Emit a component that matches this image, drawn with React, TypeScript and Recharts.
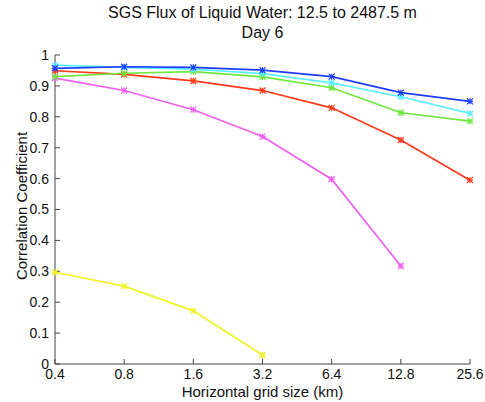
import { LineChart, Line, XAxis, YAxis } from "recharts";

const sizes = ["0.4", "0.8", "1.6", "3.2", "6.4", "12.8", "25.6"];
const blue = [0.957, 0.962, 0.96, 0.951, 0.93, 0.878, 0.85];
const cyan = [0.967, 0.96, 0.954, 0.94, 0.91, 0.865, 0.811];
const green = [0.93, 0.941, 0.946, 0.929, 0.894, 0.813, 0.786];
const red = [0.949, 0.937, 0.916, 0.885, 0.829, 0.725, 0.595];
const magenta = [0.925, 0.885, 0.823, 0.736, 0.598, 0.317];
const yellow = [0.297, 0.252, 0.172, 0.029];
const yTicks = [0, 0.1, 0.2, 0.3, 0.4, 0.5, 0.6, 0.7, 0.8, 0.9, 1];

const data = sizes.map((s, i) => ({
  x: s,
  blue: blue[i],
  cyan: cyan[i],
  green: green[i],
  red: red[i],
  magenta: magenta[i],
  yellow: yellow[i],
}));

const series = [
  { key: "yellow", color: "#f2f22a" },
  { key: "magenta", color: "#f060f0" },
  { key: "red", color: "#ff3a1a" },
  { key: "green", color: "#6ee83c" },
  { key: "cyan", color: "#5cf0ff" },
  { key: "blue", color: "#1f3cff" },
];

const font = "'Liberation Sans', Arial, sans-serif";

// small MATLAB-ish star marker
function Star(props: any) {
  const { cx, cy, stroke } = props;
  if (cx == null || cy == null || props.value == null) return null;
  const r = 3;
  return (
    <g stroke={stroke} strokeWidth={1.2}>
      <line x1={cx - r} y1={cy - r} x2={cx + r} y2={cy + r} />
      <line x1={cx - r} y1={cy + r} x2={cx + r} y2={cy - r} />
      <line x1={cx - r} y1={cy} x2={cx + r} y2={cy} />
      <line x1={cx} y1={cy - r} x2={cx} y2={cy + r} />
    </g>
  );
}

export default function App() {
  const axisColor = "#444";
  return (
    <div style={{ position: "absolute", left: 0, top: 0, width: 485, height: 402, background: "#fff", fontFamily: font }}>
      <div style={{ position: "absolute", left: 30, width: 465, top: 3, textAlign: "center", fontSize: 16, lineHeight: "20px", color: "#111" }}>
        SGS Flux of Liquid Water: 12.5 to 2487.5 m
        <br />
        Day 6
      </div>
      <div
        style={{
          position: "absolute",
          left: 21,
          top: 206,
          transform: "translate(-50%, -50%) rotate(-90deg)",
          fontSize: 15,
          whiteSpace: "nowrap",
          color: "#111",
        }}
      >
        Correlation Coefficient
      </div>
      <div style={{ position: "absolute", left: 55, width: 415, top: 383, textAlign: "center", fontSize: 15, color: "#111" }}>
        Horizontal grid size (km)
      </div>
      <LineChart width={485} height={402} data={data} margin={{ top: 55, right: 15, bottom: 0, left: 0 }}>
        <XAxis
          dataKey="x"
          height={38}
          stroke={axisColor}
          tickSize={-5}
          tickMargin={10}
          tick={{ fill: "#111", fontSize: 14, fontFamily: font }}
          interval={0}
        />
        <XAxis xAxisId="t" dataKey="x" orientation="top" height={0} stroke={axisColor} tickSize={-5} tick={false} />
        <YAxis
          width={55}
          domain={[0, 1]}
          ticks={yTicks}
          stroke={axisColor}
          tickSize={-5}
          tickMargin={11}
          tick={{ fill: "#111", fontSize: 14, fontFamily: font }}
          interval={0}
        />
        <YAxis yAxisId="r" orientation="right" width={0} domain={[0, 1]} ticks={yTicks} stroke={axisColor} tickSize={-5} tick={false} />
        {series.map((s) => (
          <Line
            key={s.key}
            dataKey={s.key}
            stroke={s.color}
            strokeWidth={1.7}
            dot={<Star />}
            activeDot={false}
            isAnimationActive={false}
            connectNulls={false}
          />
        ))}
      </LineChart>
    </div>
  );
}
